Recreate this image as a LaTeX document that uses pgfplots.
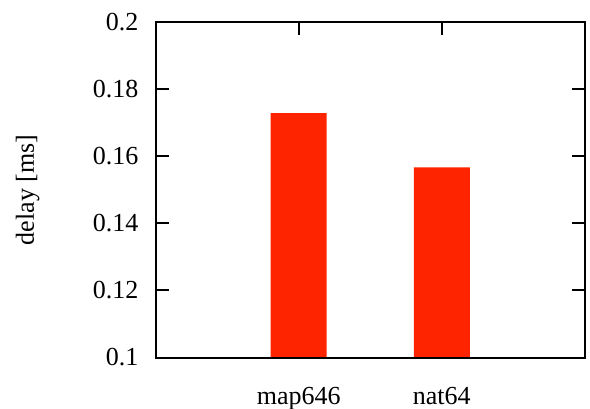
\documentclass[border=0pt]{standalone}
\usepackage{pgfplots}
\pgfplotsset{compat=1.18}
\usepackage{fontspec}
\setmainfont{Liberation Serif}
\usetikzlibrary{calc}
\definecolor{barred}{RGB}{255,36,0}
\begin{document}
\fontsize{13}{15.6}\selectfont
\begin{tikzpicture}
\begin{axis}[
  scale only axis,
  width=214.55pt, height=167.6pt,
  xmin=-1, xmax=2,
  ymin=0.1, ymax=0.2,
  xtick={0,1},
  xticklabels={map646,nat64},
  ytick={0.1,0.12,0.14,0.16,0.18,0.2},
  yticklabels={0.1,0.12,0.14,0.16,0.18,0.2},
  xtick pos=right,
  xticklabel pos=left,
  tick align=inside,
  major tick length=6.5pt,
  tick style={black, line width=1pt},
  axis line style={black, line width=1pt},
  axis on top,
  /pgf/number format/assume math mode=true,
  tick label style={inner sep=0pt, font=\fontsize{13}{15.6}\selectfont},
  yticklabel style={anchor=east, xshift=-8.5pt},
  xticklabel style={anchor=north, yshift=-14.5pt},
  ylabel={delay [ms]},
  every axis y label/.style={at={(axis description cs:0,0.5)}, xshift=-64pt, rotate=90, anchor=center, font=\fontsize{13}{15.6}\selectfont},
]
\addplot[ybar, bar width=28pt, fill=barred, draw=none, bar shift=0pt] coordinates {(0,0.1729) (1,0.1567)};
\end{axis}
\pgfresetboundingbox
\path[use as bounding box] ($(current axis.south west)+(-77.85pt,-25.25pt)$) rectangle ($(current axis.north east)+(2.6pt,11.15pt)$);
\end{tikzpicture}
\end{document}
